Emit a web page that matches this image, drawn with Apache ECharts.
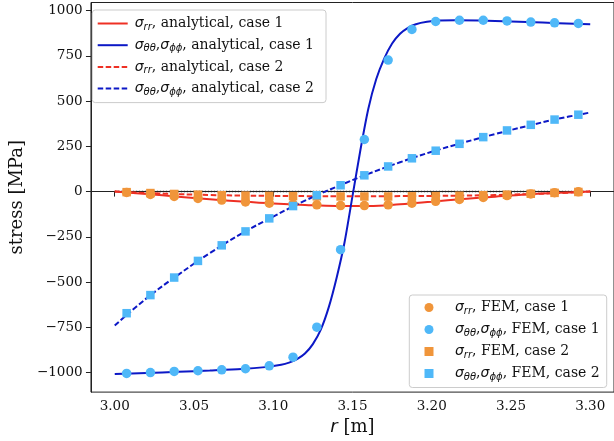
<!DOCTYPE html>
<html>
<head>
<meta charset="utf-8">
<script src="https://cdn.jsdelivr.net/npm/echarts@6/dist/echarts.min.js"></script>
<style>
html,body{margin:0;padding:0;background:#fff;}
#c{width:614px;height:441px;}
</style>
</head>
<body>
<div id="c"></div>
<script>
// ---------- data ----------
const xTicks = [3.00, 3.05, 3.10, 3.15, 3.20, 3.25, 3.30];
const yTicks = [-1000, -750, -500, -250, 0, 250, 500, 750, 1000];

// FEM element centres
const xFem = [3.0075, 3.0225, 3.0375, 3.0525, 3.0675, 3.0825, 3.0975, 3.1125, 3.1275, 3.1425,
              3.1575, 3.1725, 3.1875, 3.2025, 3.2175, 3.2325, 3.2475, 3.2625, 3.2775, 3.2925];
const femRr1 = [-5, -16, -27, -38, -47, -57, -64, -69, -73, -77, -77, -73, -64, -54, -43, -32, -22, -13, -6, -1];
const femTt1 = [-1005, -1000, -994, -990, -985, -979, -963, -915, -749, -321, 288, 727, 896, 940, 947, 947, 943, 937, 933, 929];
const femRr2 = [-3, -8, -13, -17, -20, -22, -24, -25, -26, -27, -27, -27, -26, -25, -23, -20, -17, -12, -7, -2];
const femTt2 = [-672, -572, -475, -383, -297, -220, -148, -80, -20, 35, 90, 139, 184, 226, 264, 301, 338, 369, 398, 425];

// analytical curves
const xAna = [3.00, 3.02, 3.04, 3.06, 3.08, 3.10, 3.12, 3.14, 3.16, 3.18, 3.20, 3.22, 3.24, 3.26, 3.28, 3.30];
const anaRr1 = [0, -13, -28, -42, -55, -66, -74, -79, -79, -70, -56, -41, -28, -16, -7, 0];
const anaRr2 = [0, -8, -14, -19, -22, -24, -25, -26, -26, -25, -24, -22, -19, -14, -8, 0];
const anaTt2 = [-740, -590, -460, -340, -232, -138, -50, 27, 98, 162, 220, 271, 318, 362, 403, 437];

const xAnaTt1 = [3.000, 3.020, 3.040, 3.060, 3.080, 3.095, 3.105, 3.110, 3.115, 3.120, 3.125, 3.130,
                 3.135, 3.140, 3.145, 3.150, 3.155, 3.160, 3.165, 3.170, 3.175, 3.180, 3.185,
                 3.190, 3.197, 3.205, 3.215, 3.230, 3.250, 3.270, 3.290, 3.300];
const anaTt1 = [-1008, -1002, -996, -989, -981, -970, -957, -945, -926, -895, -843, -763,
                -640, -476, -280, -25, 230, 458, 622, 735, 818, 872, 905,
                925, 938, 945, 947, 946, 940, 934, 928, 925];

const zeroX = [3.00, 3.30];
const zeroY = [0, 0];

// ---------- styling ----------
const RED = '#ee3024', BLUE = '#0c18c6', LBLUE = '#4fb8f8', ORANGE = '#f0953a';
const SERIF = '"DejaVu Serif", serif';
const SANS = '"DejaVu Sans", sans-serif';

function pairs(xs, ys) { return xs.map((x, i) => [x, ys[i]]); }

const labels = {
  rrA1: '{s|σ}{b|rr}{t|, analytical, case 1}',
  ttA1: '{s|σ}{b|θθ}{t|,}{s|σ}{b|ϕϕ}{t|, analytical, case 1}',
  rrA2: '{s|σ}{b|rr}{t|, analytical, case 2}',
  ttA2: '{s|σ}{b|θθ}{t|,}{s|σ}{b|ϕϕ}{t|, analytical, case 2}',
  rrF1: '{s|σ}{b|rr}{t|, FEM, case 1}',
  ttF1: '{s|σ}{b|θθ}{t|,}{s|σ}{b|ϕϕ}{t|, FEM, case 1}',
  rrF2: '{s|σ}{b|rr}{t|, FEM, case 2}',
  ttF2: '{s|σ}{b|θθ}{t|,}{s|σ}{b|ϕϕ}{t|, FEM, case 2}'
};
const rich = {
  s: {fontFamily: SANS, fontStyle: 'italic', fontSize: 14, lineHeight: 17, color: '#111'},
  b: {fontFamily: SANS, fontStyle: 'italic', fontSize: 10, lineHeight: 9, verticalAlign: 'bottom', color: '#111'},
  t: {fontFamily: SERIF, fontSize: 14, lineHeight: 17, color: '#111'}
};

const dashed = [5.5, 2.5];

const chart = echarts.init(document.getElementById('c'), null, {renderer: 'canvas'});
chart.setOption({
  animation: false,
  backgroundColor: '#fff',
  grid: {left: 85.7, right: -3, top: 2.5, bottom: 48, show: true, borderColor: '#222', borderWidth: 1, backgroundColor: 'transparent'},
  xAxis: {
    type: 'value', min: 2.985, max: 3.315,
    name: '{i|r} [m]', nameLocation: 'middle', nameGap: 22,
    nameTextStyle: {fontFamily: SERIF, fontSize: 18, color: '#111',
      rich: {i: {fontFamily: SANS, fontStyle: 'italic', fontSize: 18, color: '#111'}}},
    axisLine: {show: true, lineStyle: {color: '#222', width: 1}},
    axisTick: {show: true, length: 5, inside: false, customValues: xTicks, lineStyle: {color: '#222'}},
    axisLabel: {customValues: xTicks, margin: 7, fontFamily: SERIF, fontSize: 13.5, color: '#111',
      formatter: v => v.toFixed(2)},
    splitLine: {show: false}
  },
  yAxis: {
    type: 'value', min: -1108, max: 1045,
    name: 'stress [MPa]', nameLocation: 'middle', nameGap: 61, nameRotate: 90,
    nameTextStyle: {fontFamily: SERIF, fontSize: 18, color: '#111'},
    axisLine: {show: true, lineStyle: {color: '#222', width: 1}},
    axisTick: {show: true, length: 5, customValues: yTicks, lineStyle: {color: '#222'}},
    axisLabel: {customValues: yTicks, margin: 8.4, fontFamily: SERIF, fontSize: 13.5, color: '#111',
      formatter: v => (v < 0 ? '\u2212' + Math.abs(v) : String(v))},
    splitLine: {show: false}
  },
  legend: [
    {
      data: ['rrA1', 'ttA1', 'rrA2', 'ttA2'],
      orient: 'vertical', left: 92.3, top: 10,
      itemWidth: 30, itemHeight: 14, itemGap: 6.2,
      padding: [6.5, 12, 5.5, 4.4],
      itemStyle: {opacity: 0, borderWidth: 0},
      backgroundColor: 'rgba(255,255,255,0.85)', borderColor: '#cccccc', borderWidth: 1, borderRadius: 3,
      formatter: n => labels[n],
      textStyle: {rich: rich, padding: [0, 0, 0, 2]}
    },
    {
      data: ['rrF1', 'ttF1', 'rrF2', 'ttF2'],
      orient: 'vertical', left: 409.3, top: 295,
      itemWidth: 9, itemHeight: 9, itemGap: 6.5,
      padding: [5.5, 7, 5.5, 15.2],
      backgroundColor: 'rgba(255,255,255,0.85)', borderColor: '#cccccc', borderWidth: 1, borderRadius: 3,
      formatter: n => labels[n],
      textStyle: {rich: rich, padding: [0, 0, 0, 16.5]}
    }
  ],
  series: [
    {name: 'zero', type: 'line', data: pairs(zeroX, zeroY), symbol: 'none', z: 1,
     lineStyle: {color: '#222', width: 1.5, type: [1.5, 1.5]}},
    {name: 'rrA1', type: 'line', data: pairs(xAna, anaRr1), symbol: 'none', smooth: 0.4, z: 2,
     color: RED, lineStyle: {color: RED, width: 2}},
    {name: 'ttA1', type: 'line', data: pairs(xAnaTt1, anaTt1), symbol: 'none', smooth: 0.25, z: 2,
     color: BLUE, lineStyle: {color: BLUE, width: 2}},
    {name: 'rrA2', type: 'line', data: pairs(xAna, anaRr2), symbol: 'none', smooth: 0.4, z: 2,
     color: RED, lineStyle: {color: RED, width: 2, type: dashed}},
    {name: 'ttA2', type: 'line', data: pairs(xAna, anaTt2), symbol: 'none', smooth: 0.4, z: 2,
     color: BLUE, lineStyle: {color: BLUE, width: 2, type: dashed}},
    {name: 'rrF1', type: 'scatter', data: pairs(xFem, femRr1), symbol: 'circle', symbolSize: 9.5, z: 3,
     itemStyle: {color: ORANGE, opacity: 1}},
    {name: 'ttF1', type: 'scatter', data: pairs(xFem, femTt1), symbol: 'circle', symbolSize: 9.5, z: 4,
     itemStyle: {color: LBLUE, opacity: 1}},
    {name: 'rrF2', type: 'scatter', data: pairs(xFem, femRr2), symbol: 'rect', symbolSize: 8.5, z: 5,
     itemStyle: {color: ORANGE, opacity: 1}},
    {name: 'ttF2', type: 'scatter', data: pairs(xFem, femTt2), symbol: 'rect', symbolSize: 8.5, z: 6,
     itemStyle: {color: LBLUE, opacity: 1}}
  ]
});
</script>
</body>
</html>
